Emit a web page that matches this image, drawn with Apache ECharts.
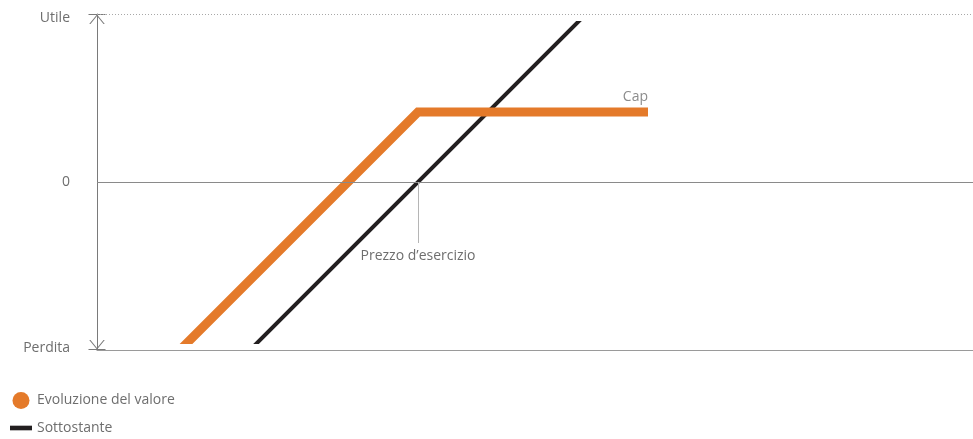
<!DOCTYPE html>
<html><head><meta charset="utf-8">
<script src="https://cdn.jsdelivr.net/npm/echarts@6/dist/echarts.min.js"></script>
<style>html,body{margin:0;padding:0;background:#fff}#c{width:973px;height:439px}</style>
</head><body><div id="c"></div>
<script>
// ---- data ----
const seriesNames = ['Evoluzione del valore', 'Sottostante'];
const yTickLabels = ['Perdita', '0', 'Utile'];
const strikePrice = 321;
const strikeGuideEnd = -61;
const capLevel = 70;
const productPayoff = [[76, -175], [321, 70], [551, 70]];
const underlyingPayoff = [[146, -175], [496, 175]];
const capLabel = 'Cap';
const strikeLabel = 'Prezzo d\u2019esercizio';

// ---- styles ----
const FONT = 'Open Sans';
const TXT = '#6e6e6e';
const AXIS = '#7a7a7a';
const ORANGE = '#e47a2a';
const BLACK = '#231f20';
const arrowPath = 'path://M0,0 H17 V1.1 H0 Z M8.5,0.4 L16.3,10 L15,10 L8.5,2.1 L2,10 L0.7,10 Z';

const chart = echarts.init(document.getElementById('c'), null, {renderer: 'canvas'});
const baseX = {type: 'value', min: 0, max: 876, show: false};
chart.setOption({
  animation: false,
  textStyle: {fontFamily: FONT},
  grid: [
    {left: 97, right: 0, top: 14, height: 336},
    {left: 97, right: 0, top: 30, height: 309.5},
    {left: 97, right: 0, top: 23, height: 319}
  ],
  xAxis: [
    {type: 'value', gridIndex: 0, min: 0, max: 876,
     axisLine: {show: true, onZero: false, lineStyle: {color: '#9a9a9a', width: 1.2}},
     axisTick: {show: false}, axisLabel: {show: false}, splitLine: {show: false}},
    Object.assign({gridIndex: 1}, baseX),
    Object.assign({gridIndex: 2}, baseX)
  ],
  yAxis: [
    {type: 'value', gridIndex: 0, min: -168, max: 168, interval: 168,
     axisLine: {show: true, onZero: false, lineStyle: {color: AXIS, width: 1},
       symbol: [arrowPath, arrowPath], symbolSize: [17, 10], symbolOffset: [5, -5]},
     axisTick: {show: false}, splitLine: {show: false},
     axisLabel: {
       margin: 27, color: TXT, fontSize: 14, fontFamily: FONT,
       formatter: function (v, i) {
         const t = yTickLabels[i];
         if (i === 2) return '{top|' + t + '}';
         if (i === 0) return '{bot|' + t + '}';
         return t;
       },
       rich: {
         top: {padding: [8, 0, 0, 0], color: TXT, fontSize: 14, fontFamily: FONT},
         bot: {padding: [0, 0, 4, 0], color: TXT, fontSize: 14, fontFamily: FONT}
       }
     }},
    {type: 'value', gridIndex: 1, min: -157.5, max: 152, show: false},
    {type: 'value', gridIndex: 2, min: -160, max: 159, show: false}
  ],
  legend: {
    orient: 'vertical', left: 10, top: 392, padding: 0, itemGap: 12,
    itemWidth: 22, itemHeight: 17,
    textStyle: {color: TXT, fontSize: 14, fontFamily: FONT},
    data: [
      {name: seriesNames[0], icon: 'circle', itemStyle: {color: ORANGE}},
      {name: seriesNames[1], icon: 'path://M0,0 H19 V4 H0 Z', itemStyle: {color: BLACK}}
    ],
    selectedMode: false
  },
  series: [
    {
      name: 'guides', type: 'line', xAxisIndex: 0, yAxisIndex: 0, data: [],
      silent: true,
      markLine: {
        silent: true, symbol: ['none', 'none'], animation: false,
        label: {show: false},
        data: [
          {yAxis: 168, lineStyle: {color: '#a8a8a8', width: 1, type: [1, 2]}},
          {yAxis: 0, lineStyle: {color: '#8a8a8a', width: 1, type: 'solid'}},
          [
            {coord: [strikePrice, 0], lineStyle: {color: '#b5b5b5', width: 1, type: 'solid'},
             label: {show: true, position: 'end', distance: 6, formatter: strikeLabel,
                     color: TXT, fontSize: 14, fontFamily: FONT}},
            {coord: [strikePrice, strikeGuideEnd]}
          ]
        ]
      }
    },
    {
      name: seriesNames[1], type: 'line', xAxisIndex: 2, yAxisIndex: 2,
      data: underlyingPayoff, showSymbol: false, symbol: 'none', clip: true,
      lineStyle: {color: BLACK, width: 4, cap: 'butt'}, itemStyle: {color: BLACK}, z: 3
    },
    {
      name: seriesNames[0], type: 'line', xAxisIndex: 1, yAxisIndex: 1,
      data: productPayoff, showSymbol: false, symbol: 'none', clip: true,
      lineStyle: {color: ORANGE, width: 9, cap: 'butt', join: 'miter'}, itemStyle: {color: ORANGE}, z: 4
    },
    {
      name: 'capLabel', type: 'scatter', xAxisIndex: 1, yAxisIndex: 1,
      data: [[productPayoff[productPayoff.length - 1][0], capLevel]],
      symbolSize: 1, itemStyle: {color: 'transparent'}, silent: true,
      label: {show: true, formatter: capLabel, position: 'top', align: 'right', distance: 7,
              color: TXT, fontSize: 14, fontFamily: FONT}
    }
  ]
});
</script></body></html>
